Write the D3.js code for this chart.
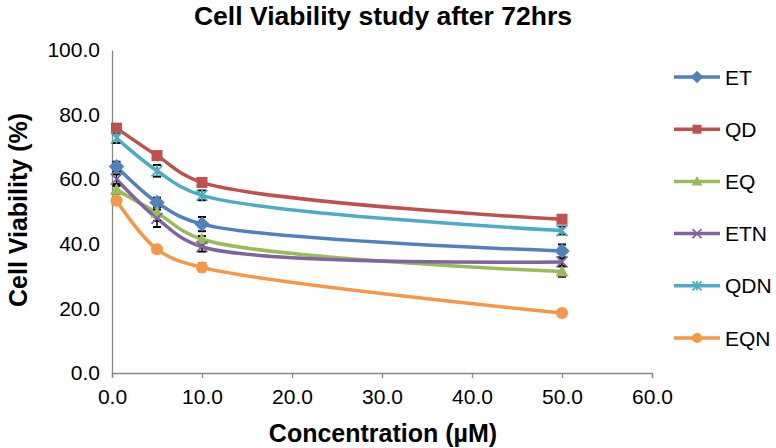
<!DOCTYPE html>
<html>
<head>
<meta charset="utf-8">
<script src="https://cdn.jsdelivr.net/npm/d3@7"></script>
<style>
  body { margin: 0; background: #fff; }
  text { font-family: "Liberation Sans", Arial, sans-serif; }
</style>
</head>
<body>
<div id="chart"></div>
<script>
// Data
const concentrations = [0.5, 5, 10, 50];
const seriesNames = ["ET", "QD", "EQ", "ETN", "QDN", "EQN"];
const etValues  = [63.9, 52.8, 46.1, 37.8];
const qdValues  = [75.8, 67.3, 59.0, 47.6];
const eqValues  = [56.7, 49.6, 41.4, 31.4];
const etnValues = [60.0, 47.9, 39.1, 34.4];
const qdnValues = [72.7, 62.6, 55.0, 44.1];
const eqnValues = [53.3, 38.3, 32.7, 18.6];
const etErr  = [1.5, 1.5, 2.2, 2.0];
const qdErr  = [1.0, 1.0, 1.0, 0.8];
const eqErr  = [1.2, 2.5, 1.0, 1.6];
const etnErr = [1.5, 2.7, 1.5, 1.2];
const qdnErr = [1.5, 1.8, 1.5, 1.2];
const eqnErr = [0.6, 0.6, 1.2, 0.6];
const xTicks = [0, 10, 20, 30, 40, 50, 60];
const yTicks = [0, 20, 40, 60, 80, 100];

const colors = ["#4F81BD", "#C0504D", "#9BBB59", "#8064A2", "#4BACC6", "#F79646"];
const markers = ["diamond", "square", "triangle", "x", "star", "circle"];
const allValues = [etValues, qdValues, eqValues, etnValues, qdnValues, eqnValues];
const allErrs = [etErr, qdErr, eqErr, etnErr, qdnErr, eqnErr];

const series = seriesNames.map((name, i) => ({
    name,
    color: colors[i],
    marker: markers[i],
    points: concentrations.map((c, j) => ({ x: c, y: allValues[i][j], e: allErrs[i][j] }))
}));

// Chart dimensions
const width = 776;
const height = 448;
const margin = { left: 112, right: 124, top: 50, bottom: 75 };

const xScale = d3.scaleLinear()
    .domain([0, 60])
    .range([margin.left, width - margin.right]);

const yScale = d3.scaleLinear()
    .domain([0, 100])
    .range([height - margin.bottom, margin.top]);

const svg = d3.select("#chart")
    .append("svg")
    .attr("width", width)
    .attr("height", height);

// Title
svg.append("text")
    .attr("x", 383)
    .attr("y", 25)
    .attr("text-anchor", "middle")
    .style("font-size", "26.5px")
    .style("font-weight", "bold")
    .text("Cell Viability study after 72hrs");

// X-Axis
const xAxis = d3.axisBottom(xScale)
    .tickValues(xTicks)
    .tickSize(5)
    .tickPadding(11)
    .tickFormat(d3.format(".1f"));
const gx = svg.append("g")
    .attr("transform", `translate(0, ${yScale(0)})`)
    .call(xAxis);
gx.select(".domain").attr("stroke", "#888").attr("stroke-width", 1.3);
gx.selectAll(".tick line").attr("stroke", "#888").attr("stroke-width", 1.3);
gx.selectAll(".tick text")
    .style("font-size", "21px")
    .attr("fill", "#000");

// Y-Axis
const yAxis = d3.axisLeft(yScale)
    .tickValues(yTicks)
    .tickSize(0)
    .tickPadding(12)
    .tickFormat(d3.format(".1f"));
const gy = svg.append("g")
    .attr("transform", `translate(${xScale(0)}, 0)`)
    .call(yAxis);
gy.select(".domain").attr("stroke", "#888").attr("stroke-width", 1.3);
gy.selectAll(".tick text")
    .style("font-size", "21px")
    .attr("fill", "#000");

// Axis titles
svg.append("text")
    .attr("x", 383)
    .attr("y", 442)
    .attr("text-anchor", "middle")
    .style("font-size", "25px")
    .style("font-weight", "bold")
    .text("Concentration (µM)");

svg.append("text")
    .attr("transform", "translate(27, 210) rotate(-90)")
    .attr("text-anchor", "middle")
    .style("font-size", "25px")
    .style("font-weight", "bold")
    .text("Cell Viability (%)");

// Lines (smoothed)
const line = d3.line()
    .x(d => xScale(d.x))
    .y(d => yScale(d.y))
    .curve(d3.curveCatmullRom.alpha(0.5));

svg.selectAll(".series-line")
    .data(series)
    .enter()
    .append("path")
    .attr("class", "series-line")
    .attr("d", d => line(d.points))
    .attr("fill", "none")
    .attr("stroke", d => d.color)
    .attr("stroke-width", 3.5);

// Error bars
const errG = svg.append("g");
series.forEach(s => {
    s.points.forEach(p => {
        const cx = xScale(p.x);
        const y1 = yScale(p.y + p.e);
        const y2 = yScale(p.y - p.e);
        errG.append("line").attr("x1", cx).attr("x2", cx).attr("y1", y1).attr("y2", y2)
            .attr("stroke", "#000").attr("stroke-width", 1.5);
        [y1, y2].forEach(yy => {
            errG.append("line").attr("x1", cx - 4).attr("x2", cx + 4).attr("y1", yy).attr("y2", yy)
                .attr("stroke", "#000").attr("stroke-width", 2);
        });
    });
});

// Markers
function drawMarker(g, type, color, size) {
    const s = size;
    if (type === "diamond") {
        g.append("path").attr("d", `M0,${-s * 0.7}L${s * 0.7},0L0,${s * 0.7}L${-s * 0.7},0Z`).attr("fill", color);
    } else if (type === "square") {
        g.append("rect").attr("x", -s / 2).attr("y", -s / 2).attr("width", s).attr("height", s).attr("fill", color);
    } else if (type === "triangle") {
        g.append("path").attr("d", `M0,${-s * 0.6}L${s * 0.6},${s * 0.45}L${-s * 0.6},${s * 0.45}Z`).attr("fill", color);
    } else if (type === "x") {
        g.append("path").attr("d", `M${-s / 2},${-s / 2}L${s / 2},${s / 2}M${s / 2},${-s / 2}L${-s / 2},${s / 2}`)
            .attr("stroke", color).attr("stroke-width", 1.8);
    } else if (type === "star") {
        g.append("path").attr("d", `M${-s / 2},${-s / 2}L${s / 2},${s / 2}M${s / 2},${-s / 2}L${-s / 2},${s / 2}M0,${-s / 2}L0,${s / 2}`)
            .attr("stroke", color).attr("stroke-width", 1.8);
    } else {
        g.append("circle").attr("r", s / 2 + 0.5).attr("fill", color);
    }
}

series.forEach(s => {
    s.points.forEach(p => {
        const g = svg.append("g").attr("transform", `translate(${xScale(p.x)}, ${yScale(p.y)})`);
        drawMarker(g, s.marker, s.color, 11);
    });
});

// Legend
const legendY = d3.scalePoint()
    .domain(seriesNames)
    .range([77, 338]);

series.forEach(s => {
    const y = legendY(s.name);
    const g = svg.append("g").attr("transform", `translate(674, ${y})`);
    g.append("line").attr("x1", 0).attr("x2", 46).attr("y1", 0).attr("y2", 0)
        .attr("stroke", s.color).attr("stroke-width", 3.5);
    const m = g.append("g").attr("transform", "translate(23, 0)");
    drawMarker(m, s.marker, s.color, 9);
    g.append("text")
        .attr("x", 51)
        .attr("y", 0)
        .attr("dy", "0.36em")
        .style("font-size", "21px")
        .text(s.name);
});
</script>
</body>
</html>
